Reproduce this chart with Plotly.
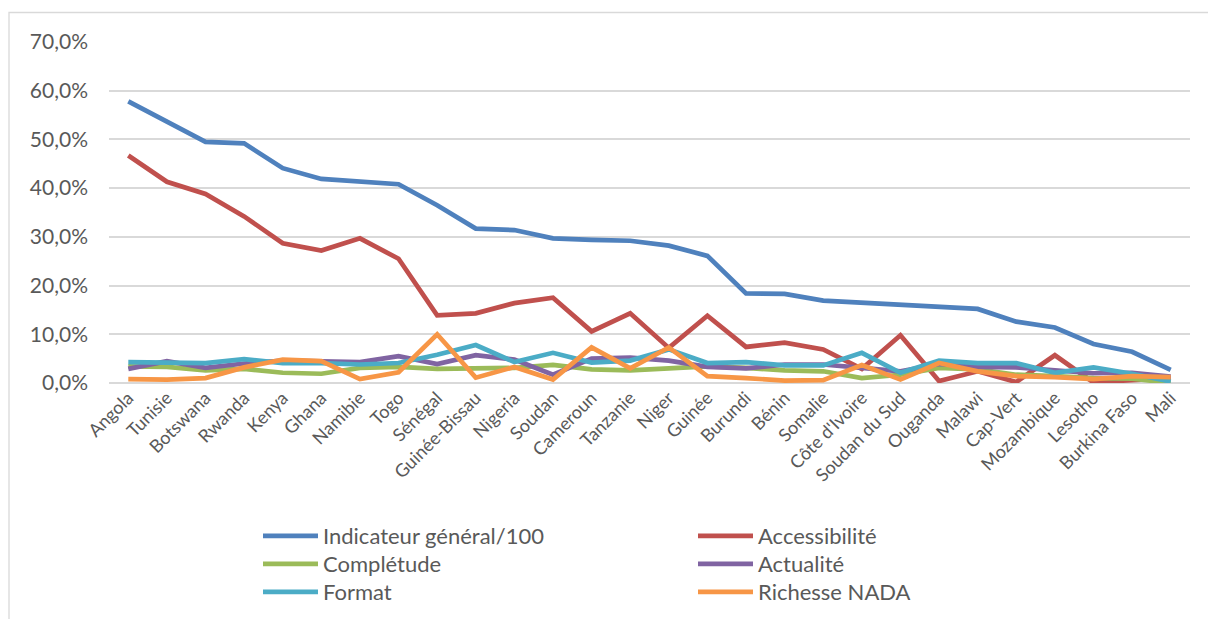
import plotly.graph_objects as go

# Countries along the horizontal axis
pays = ["Angola", "Tunisie", "Botswana", "Rwanda", "Kenya", "Ghana", "Namibie", "Togo",
        "Sénégal", "Guinée-Bissau", "Nigeria", "Soudan", "Cameroun", "Tanzanie", "Niger",
        "Guinée", "Burundi", "Bénin", "Somalie", "Côte d'Ivoire", "Soudan du Sud", "Ouganda",
        "Malawi", "Cap-Vert", "Mozambique", "Lesotho", "Burkina Faso", "Mali"]

# Scores in percent
indicateur_general = [57.8, 53.6, 49.5, 49.2, 44.1, 41.9, 41.3, 40.8, 36.5, 31.7, 31.4, 29.7, 29.4, 29.2,
                      28.2, 26.1, 18.4, 18.3, 16.9, 16.5, 16.0, 15.8, 15.2, 12.6, 11.4, 8.0, 6.4, 2.7]
accessibilite = [46.7, 41.3, 38.8, 34.2, 28.7, 27.2, 29.7, 25.5, 13.9, 14.3, 16.4, 17.5, 10.6, 14.3,
                 7.2, 13.8, 7.4, 8.3, 6.9, 2.9, 9.8, 0.4, 2.4, 0.2, 5.7, 0.1, 0.6, 1.0]
completude = [3.4, 3.3, 2.6, 2.9, 2.1, 1.9, 3.1, 3.3, 2.9, 2.9, 3.1, 3.7, 2.8, 2.6,
              3.1, 3.4, 3.1, 2.6, 2.4, 1.0, 1.7, 3.1, 2.8, 1.7, 1.4, 1.0, 0.9, 0.0]
actualite = [2.9, 4.5, 3.1, 4.0, 4.6, 4.5, 4.3, 5.5, 3.9, 5.7, 4.8, 1.7, 5.0, 5.2,
             4.6, 3.3, 3.0, 3.8, 3.8, 3.1, 2.4, 3.9, 3.3, 3.2, 2.7, 2.0, 2.1, 1.3]
format_ = [4.3, 4.3, 4.1, 4.9, 4.1, 4.1, 3.8, 4.1, 5.8, 7.8, 4.3, 6.2, 4.2, 4.6,
           6.9, 4.1, 4.3, 3.6, 3.6, 6.2, 2.1, 4.6, 4.1, 4.1, 2.1, 3.2, 1.9, 0.3]
richesse_nada = [0.8, 0.7, 1.0, 3.2, 4.8, 4.5, 0.8, 2.2, 10.0, 1.1, 3.3, 0.7, 7.3, 3.0,
                 7.3, 1.4, 1.0, 0.5, 0.6, 3.7, 0.7, 4.1, 2.4, 1.4, 1.2, 0.8, 1.4, 1.2]

# (name, values, colour, legend row)
series = [
    ("Indicateur général/100", indicateur_general, "#4F81BD", "legend"),
    ("Accessibilité", accessibilite, "#C0504D", "legend"),
    ("Complétude", completude, "#9BBB59", "legend2"),
    ("Actualité", actualite, "#8064A2", "legend2"),
    ("Format", format_, "#4BACC6", "legend3"),
    ("Richesse NADA", richesse_nada, "#F79646", "legend3"),
]

W, H = 1208, 619
L, R, T, B = 109, 18, 42, 236
pw, ph = W - L - R, H - T - B

font = "Lato, 'Open Sans', sans-serif"
grey_txt = "#595959"
grid = "#D9D9D9"

fig = go.Figure()
for name, vals, col, leg in series:
    fig.add_trace(go.Scatter(
        x=pays, y=[v / 100 for v in vals], name=name, mode="lines",
        line=dict(color=col, width=4.7, shape="linear"), legend=leg,
    ))

def px_x(p):
    return (p - L) / pw

def px_y(p):
    return (H - B - p) / ph

def legend_row(center_px):
    return dict(
        orientation="h", x=px_x(258), y=px_y(center_px), xanchor="left", yanchor="middle",
        entrywidth=365, entrywidthmode="pixels", itemwidth=55,
        font=dict(size=22, color=grey_txt), traceorder="normal",
        bgcolor="rgba(0,0,0,0)",
    )

fig.update_layout(
    width=W, height=H,
    margin=dict(l=L, r=R, t=T, b=B, autoexpand=False),
    paper_bgcolor="white", plot_bgcolor="white",
    separators=", ",
    font=dict(family=font, color=grey_txt, size=18),
    xaxis=dict(
        type="category", range=[-0.5, len(pays) - 0.5], automargin=False,
        tickangle=-45, tickfont=dict(size=18, color=grey_txt),
        showgrid=False, showline=False, ticks="", zeroline=False,
    ),
    yaxis=dict(
        range=[0, 0.7], dtick=0.1, tickformat=".1%", automargin=False,
        tickfont=dict(size=21, color=grey_txt),
        showgrid=True, gridcolor=grid, gridwidth=1.5,
        zeroline=True, zerolinecolor=grid, zerolinewidth=1.5,
        showline=False, ticks="", ticklabelstandoff=20,
    ),
    legend=legend_row(536),
    legend2=legend_row(564),
    legend3=legend_row(592),
    shapes=[dict(
        type="rect", xref="paper", yref="paper",
        x0=px_x(9), x1=px_x(1230), y0=px_y(640), y1=px_y(12.5),
        line=dict(color=grid, width=1.3), fillcolor="rgba(0,0,0,0)", layer="below",
    )],
    showlegend=True,
)

fig.write_html("out.html")
